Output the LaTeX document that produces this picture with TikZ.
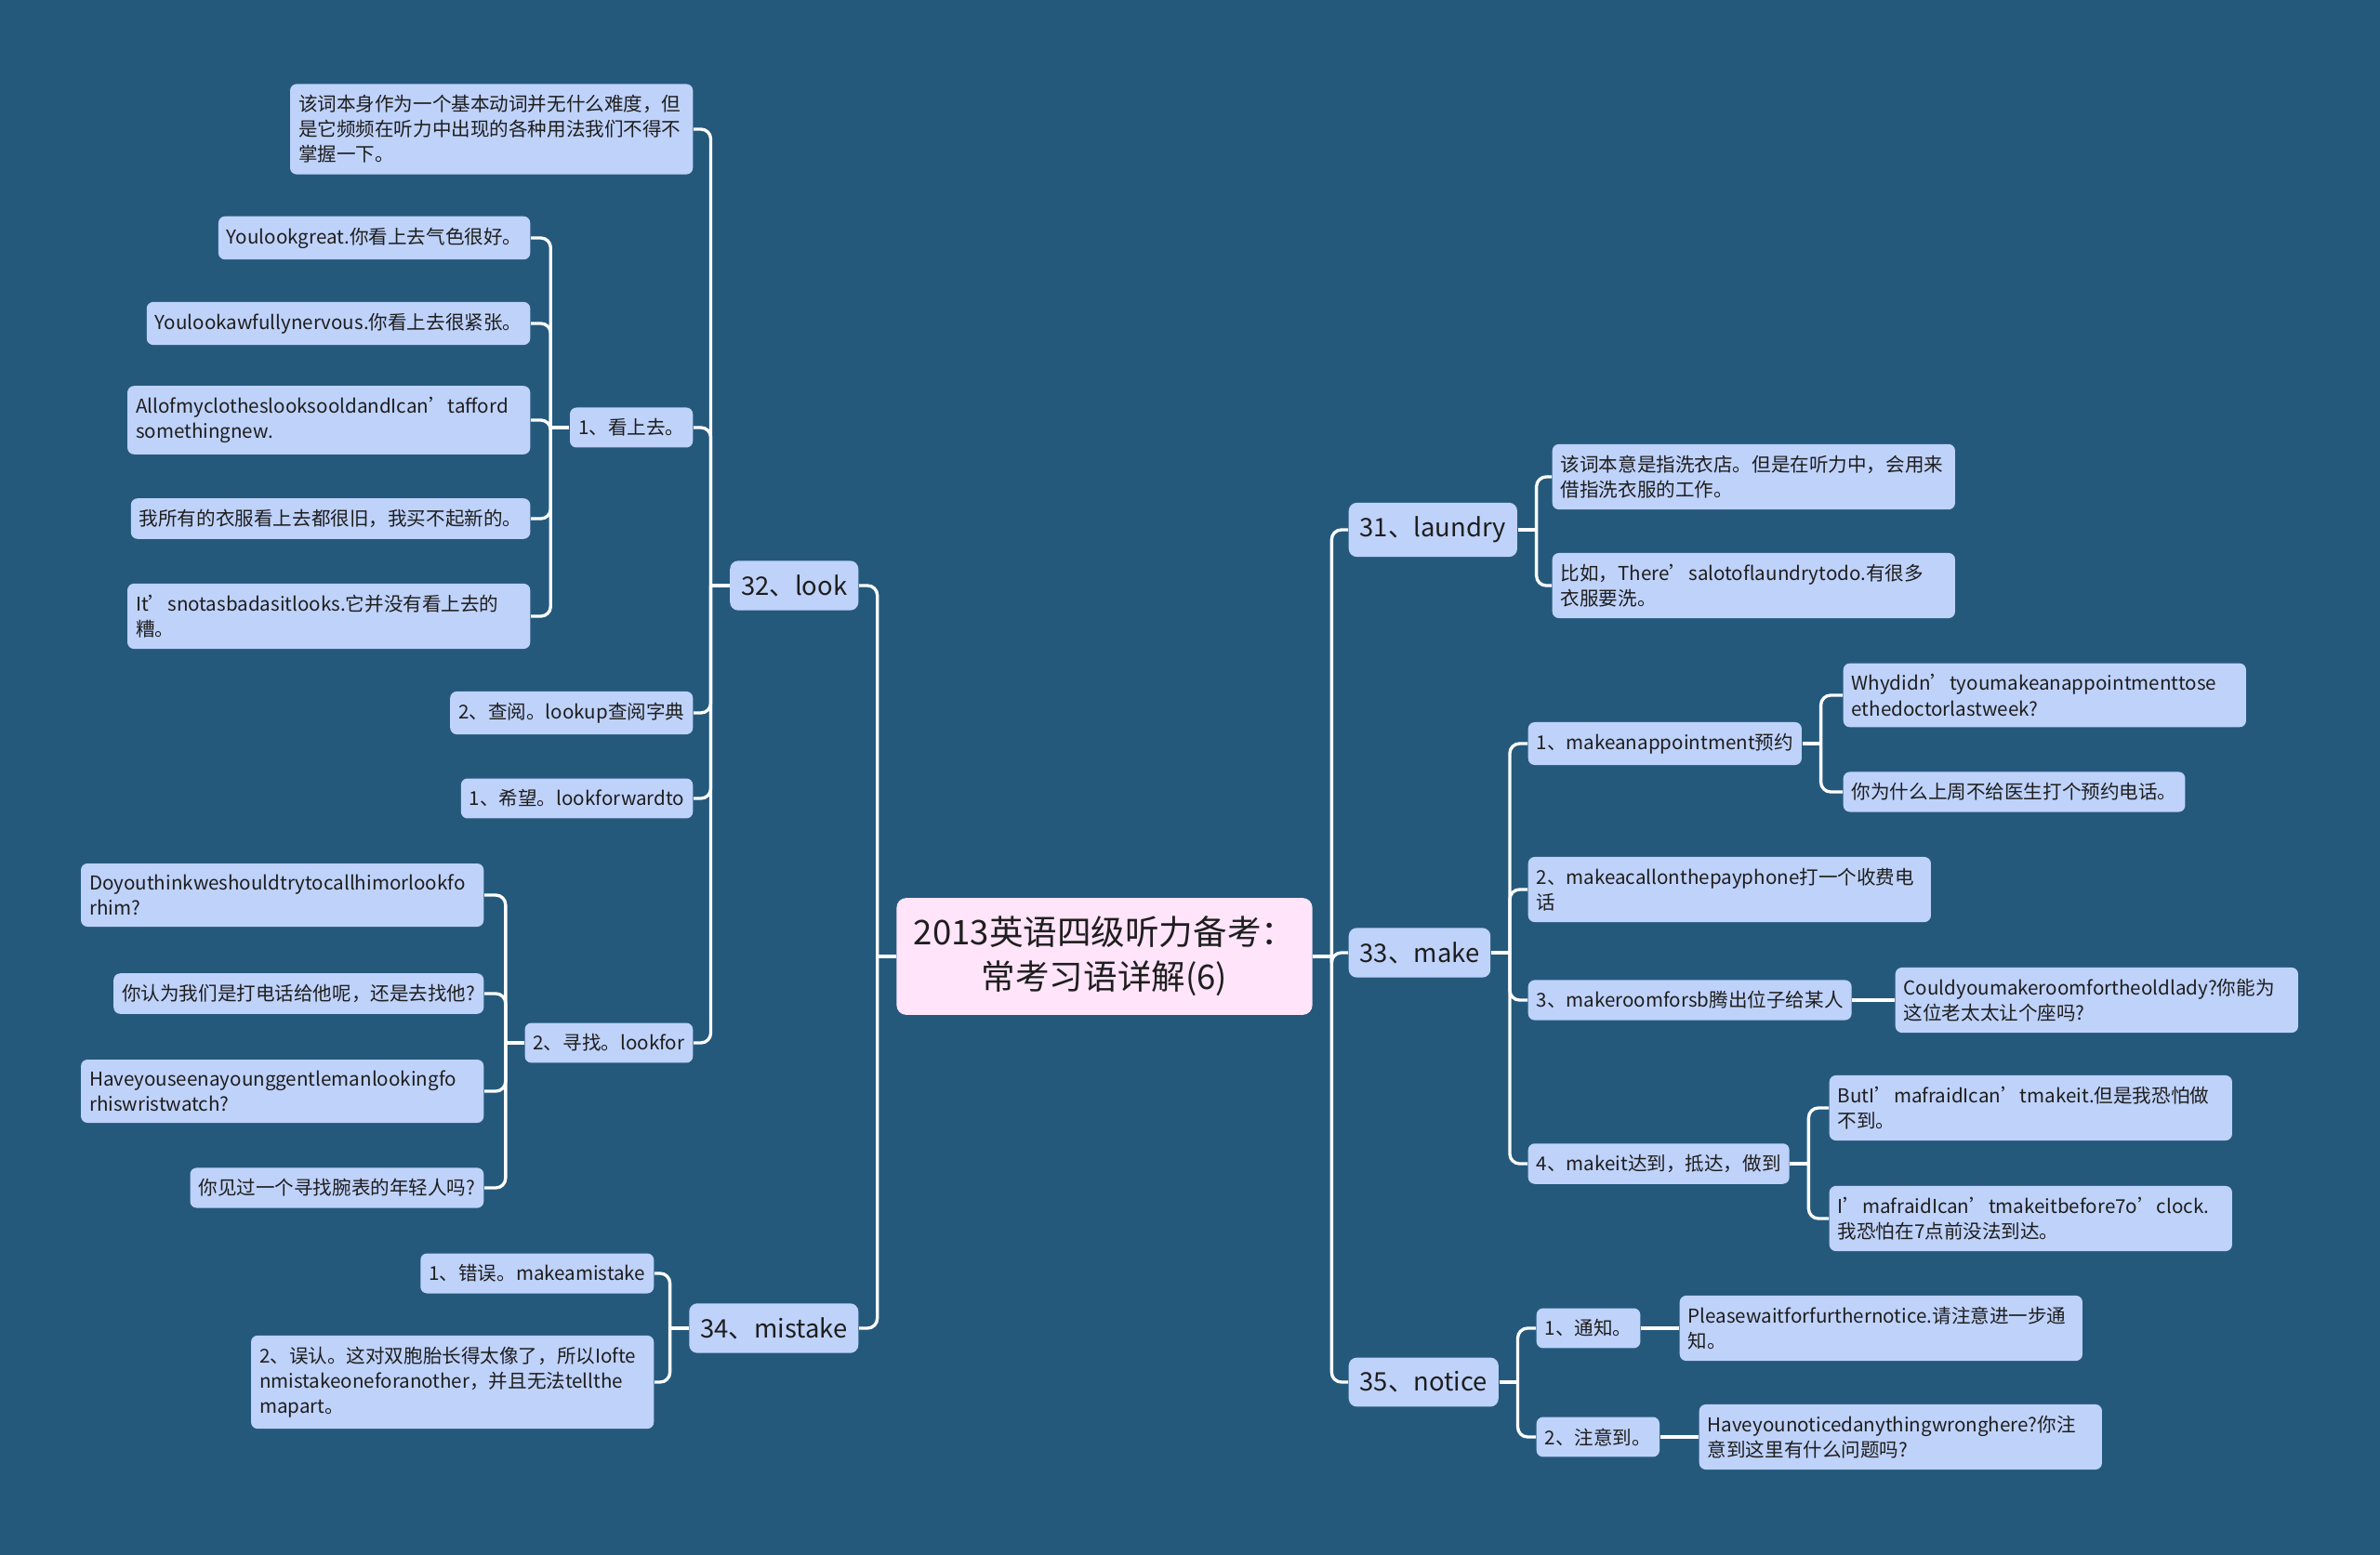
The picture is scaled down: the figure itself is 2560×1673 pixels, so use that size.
\documentclass[tikz,border=0pt]{standalone}
\usepackage{fontspec}
\setmainfont{Noto Sans CJK SC}
\usepackage{xcolor}
\usepackage{tikz}
\usetikzlibrary{positioning,calc}

\definecolor{bgblue}{RGB}{36,89,124}
\definecolor{boxblue}{RGB}{191,210,250}
\definecolor{rootpink}{RGB}{255,228,250}
\definecolor{inkdark}{RGB}{30,30,30}

\tikzset{
  leaf/.style={fill=boxblue, rounded corners=2pt, text=inkdark,
    font=\fontsize{5.85pt}{7.7pt}\selectfont, inner xsep=0.09cm, inner ysep=0.12cm, align=left},
  leafwide/.style={leaf, text width=4.15cm},
  branch/.style={fill=boxblue, rounded corners=2.5pt, text=inkdark,
    font=\fontsize{7.8pt}{10pt}\selectfont, inner xsep=0.12cm, inner ysep=0.15cm},
  rootbox/.style={fill=rootpink, rounded corners=3pt, text=inkdark,
    font=\fontsize{10.4pt}{13.6pt}\selectfont, align=center, minimum width=4.47cm, inner ysep=0.2cm},
  link/.style={draw=white, line width=0.95pt, rounded corners=3pt}
}

\begin{document}
\begin{tikzpicture}[x=0.01cm, y=-0.01cm]

\useasboundingbox (0,0) rectangle (2560,1673);
\fill[bgblue] (0,0) rectangle (2560,1673);

% Central topic
\node[rootbox] (root) at (1188,1029) {2013英语四级听力备考：\\常考习语详解(6)};

% ==================== LEFT: 32、look ====================
\node[branch, anchor=east] (look) at (924,630) {32、look};

\node[leafwide, anchor=east] (lookintro) at (746,139)
  {该词本身作为一个基本动词并无什么难度，但\\是它频频在听力中出现的各种用法我们不得不\\掌握一下。};
\node[leaf, anchor=east] (lookseem) at (746,460) {1、看上去。};
\node[leaf, anchor=east] (lookup) at (746,767) {2、查阅。lookup查阅字典};
\node[leaf, anchor=east] (lookfwd) at (746,859) {1、希望。lookforwardto};
\node[leaf, anchor=east] (lookfor) at (746,1122) {2、寻找。lookfor};

% examples for 看上去
\node[leaf, anchor=east] (seemA) at (571,256) {Youlookgreat.你看上去气色很好。};
\node[leaf, anchor=east] (seemB) at (571,348) {Youlookawfullynervous.你看上去很紧张。};
\node[leafwide, anchor=east] (seemC) at (571,452)
  {AllofmyclotheslooksooldandIcan’tafford\\somethingnew.};
\node[leaf, anchor=east] (seemD) at (571,558) {我所有的衣服看上去都很旧，我买不起新的。};
\node[leafwide, anchor=east] (seemE) at (571,663)
  {It’snotasbadasitlooks.它并没有看上去的\\糟。};

% examples for lookfor
\node[leafwide, anchor=east] (forA) at (521,963)
  {Doyouthinkweshouldtrytocallhimorlookfo\\rhim?};
\node[leaf, anchor=east] (forB) at (521,1069) {你认为我们是打电话给他呢，还是去找他?};
\node[leafwide, anchor=east] (forC) at (521,1174)
  {Haveyouseenayounggentlemanlookingfo\\rhiswristwatch?};
\node[leaf, anchor=east] (forD) at (521,1278) {你见过一个寻找腕表的年轻人吗?};

% ==================== LEFT: 34、mistake ====================
\node[branch, anchor=east] (mistake) at (924,1429) {34、mistake};
\node[leaf, anchor=east] (mistA) at (704,1370) {1、错误。makeamistake};
\node[leafwide, anchor=east] (mistB) at (704,1487)
  {2、误认。这对双胞胎长得太像了，所以Iofte\\nmistakeoneforanother，并且无法tellthe\\mapart。};

% ==================== RIGHT: 31、laundry ====================
\node[branch, anchor=west] (laundry) at (1450,570) {31、laundry};
\node[leafwide, anchor=west] (laundA) at (1669,513)
  {该词本意是指洗衣店。但是在听力中，会用来\\借指洗衣服的工作。};
\node[leafwide, anchor=west] (laundB) at (1669,630)
  {比如，There’salotoflaundrytodo.有很多\\衣服要洗。};

% ==================== RIGHT: 33、make ====================
\node[branch, anchor=west] (make) at (1450,1025) {33、make};
\node[leaf, anchor=west] (appt) at (1643,800) {1、makeanappointment预约};
\node[leafwide, anchor=west] (payphone) at (1643,957)
  {2、makeacallonthepayphone打一个收费电\\话};
\node[leaf, anchor=west] (room) at (1643,1076) {3、makeroomforsb腾出位子给某人};
\node[leaf, anchor=west] (makeit) at (1643,1252) {4、makeit达到，抵达，做到};

\node[leafwide, anchor=west] (apptA) at (1982,748)
  {Whydidn’tyoumakeanappointmenttose\\ethedoctorlastweek?};
\node[leaf, anchor=west] (apptB) at (1982,852) {你为什么上周不给医生打个预约电话。};
\node[leafwide, anchor=west] (roomA) at (2038,1076)
  {Couldyoumakeroomfortheoldlady?你能为\\这位老太太让个座吗?};
\node[leafwide, anchor=west] (itA) at (1967,1192)
  {ButI’mafraidIcan’tmakeit.但是我恐怕做\\不到。};
\node[leafwide, anchor=west] (itB) at (1967,1311)
  {I’mafraidIcan’tmakeitbefore7o’clock.\\我恐怕在7点前没法到达。};

% ==================== RIGHT: 35、notice ====================
\node[branch, anchor=west] (notice) at (1450,1487) {35、notice};
\node[leaf, anchor=west] (notA) at (1652,1429) {1、通知。};
\node[leaf, anchor=west] (notB) at (1652,1546) {2、注意到。};
\node[leafwide, anchor=west] (notAx) at (1806,1429)
  {Pleasewaitforfurthernotice.请注意进一步通\\知。};
\node[leafwide, anchor=west] (notBx) at (1827,1546)
  {Haveyounoticedanythingwronghere?你注\\意到这里有什么问题吗?};

% ---------- connectors, left side ----------
\draw[link] (root.west) -- ++(-20,0) coordinate (jleft);
\foreach \c in {look,mistake} \draw[link] (jleft) |- (\c.east);

\draw[link] (look.west) -- ++(-20,0) coordinate (jlook);
\foreach \c in {lookintro,lookseem,lookup,lookfwd,lookfor} \draw[link] (jlook) |- (\c.east);

\draw[link] (lookseem.west) -- ++(-20,0) coordinate (jseem);
\foreach \c in {seemA,seemB,seemC,seemD,seemE} \draw[link] (jseem) |- (\c.east);

\draw[link] (lookfor.west) -- ++(-20,0) coordinate (jfor);
\foreach \c in {forA,forB,forC,forD} \draw[link] (jfor) |- (\c.east);

\draw[link] (mistake.west) -- ++(-20,0) coordinate (jmist);
\foreach \c in {mistA,mistB} \draw[link] (jmist) |- (\c.east);

% ---------- connectors, right side ----------
\draw[link] (root.east) -- ++(20,0) coordinate (jright);
\foreach \c in {laundry,make,notice} \draw[link] (jright) |- (\c.west);

\draw[link] (laundry.east) -- ++(20,0) coordinate (jlaund);
\foreach \c in {laundA,laundB} \draw[link] (jlaund) |- (\c.west);

\draw[link] (make.east) -- ++(20,0) coordinate (jmake);
\foreach \c in {appt,payphone,room,makeit} \draw[link] (jmake) |- (\c.west);

\draw[link] (appt.east) -- ++(20,0) coordinate (jappt);
\foreach \c in {apptA,apptB} \draw[link] (jappt) |- (\c.west);

\draw[link] (room.east) -- (roomA.west);

\draw[link] (makeit.east) -- ++(20,0) coordinate (jit);
\foreach \c in {itA,itB} \draw[link] (jit) |- (\c.west);

\draw[link] (notice.east) -- ++(20,0) coordinate (jnot);
\foreach \c in {notA,notB} \draw[link] (jnot) |- (\c.west);
\draw[link] (notA.east) -- (notAx.west);
\draw[link] (notB.east) -- (notBx.west);

\end{tikzpicture}
\end{document}
